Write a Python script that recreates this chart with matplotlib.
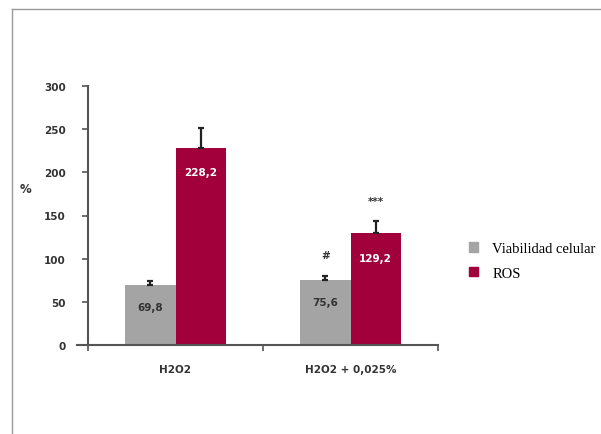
import matplotlib
matplotlib.use("Agg")
import matplotlib.pyplot as plt
import numpy as np
from matplotlib.patches import Patch
from matplotlib.lines import Line2D

# data
groups = ["H2O2", "H2O2 + 0,025%"]
viabilidad = [69.8, 75.6]
ros = [228.2, 129.2]
viabilidad_err = [4, 4.5]
ros_err = [23, 14]
viabilidad_lbl = ["69,8", "75,6"]
ros_lbl = ["228,2", "129,2"]
sig_viab = ["", "#"]
sig_ros = ["", "***"]

grey = "#a4a4a4"
red = "#a1003a"

fig = plt.figure(figsize=(6.01, 4.35), dpi=100)
ax = fig.add_axes([88/601, 89/435, 350/601, 259/435])

x = np.arange(len(groups))
w = 0.286
ax.bar(x - w/2, viabilidad, w, color=grey, zorder=2)
ax.bar(x + w/2, ros, w, color=red, zorder=2)
ax.errorbar(x - w/2, viabilidad, yerr=[np.zeros(2), viabilidad_err], fmt="none",
            ecolor="#222222", elinewidth=1.6, capsize=2.5, capthick=1.6, zorder=3)
ax.errorbar(x + w/2, ros, yerr=[np.zeros(2), ros_err], fmt="none",
            ecolor="#222222", elinewidth=1.6, capsize=2.5, capthick=1.6, zorder=3)

for i in range(len(groups)):
    ax.text(x[i] - w/2, viabilidad[i] - 26, viabilidad_lbl[i], ha="center", va="center",
            fontsize=7.5, color="#333333", fontweight="bold")
    ax.text(x[i] + w/2, ros[i] - 28, ros_lbl[i], ha="center", va="center",
            fontsize=7.5, color="white", fontweight="bold")
    if sig_viab[i]:
        ax.text(x[i] - w/2, viabilidad[i] + 29, sig_viab[i], ha="center", va="center",
                fontsize=7.5, color="#333333", fontweight="bold")
    if sig_ros[i]:
        ax.text(x[i] + w/2, ros[i] + 38, sig_ros[i], ha="center", va="center",
                fontsize=7.5, color="#333333", fontweight="bold")

ax.set_xlim(-0.5, 1.5)
ax.set_ylim(0, 300)
ax.set_yticks(range(0, 301, 50))
ax.set_xticks(x)
ax.set_xticklabels(groups)
ax.set_xticks([-0.5, 0.5, 1.5], minor=True)
ax.tick_params(axis="x", which="major", length=0, pad=14, labelsize=7.5, labelcolor="#333333")
ax.tick_params(axis="x", which="minor", length=4, width=1.2, color="#555555", direction="out")
ax.tick_params(axis="y", length=4, width=1.2, color="#555555", pad=12, labelsize=7.5,
               labelcolor="#333333")
for lab in ax.get_xticklabels() + ax.get_yticklabels():
    lab.set_fontweight("bold")
for s in ["top", "right"]:
    ax.spines[s].set_visible(False)
for s in ["left", "bottom"]:
    ax.spines[s].set_color("#555555")
    ax.spines[s].set_linewidth(1.5)
ax.spines["bottom"].set_bounds(-0.56, 1.5)
ax.set_ylabel("%", rotation=0, fontsize=8.5, fontweight="bold", color="#333333")
ax.yaxis.set_label_coords(-0.18, 0.58)

handles = [Patch(color=grey), Patch(color=red)]
fig.legend(handles, ["Viabilidad celular", "ROS"], loc="upper left",
           bbox_to_anchor=(456/601, 1 - 230/435), frameon=False,
           prop={"family": "Liberation Serif", "size": 10.5}, handlelength=0.6,
           handleheight=0.6, handletextpad=1.0, labelspacing=0.8)

# frame lines of the original picture
fig.add_artist(Line2D([12/601, 1], [1 - 9.5/435, 1 - 9.5/435], color="#999999", lw=1))
fig.add_artist(Line2D([12/601, 12/601], [0, 1 - 9.5/435], color="#999999", lw=1))

fig.savefig("out.png", dpi=100)
